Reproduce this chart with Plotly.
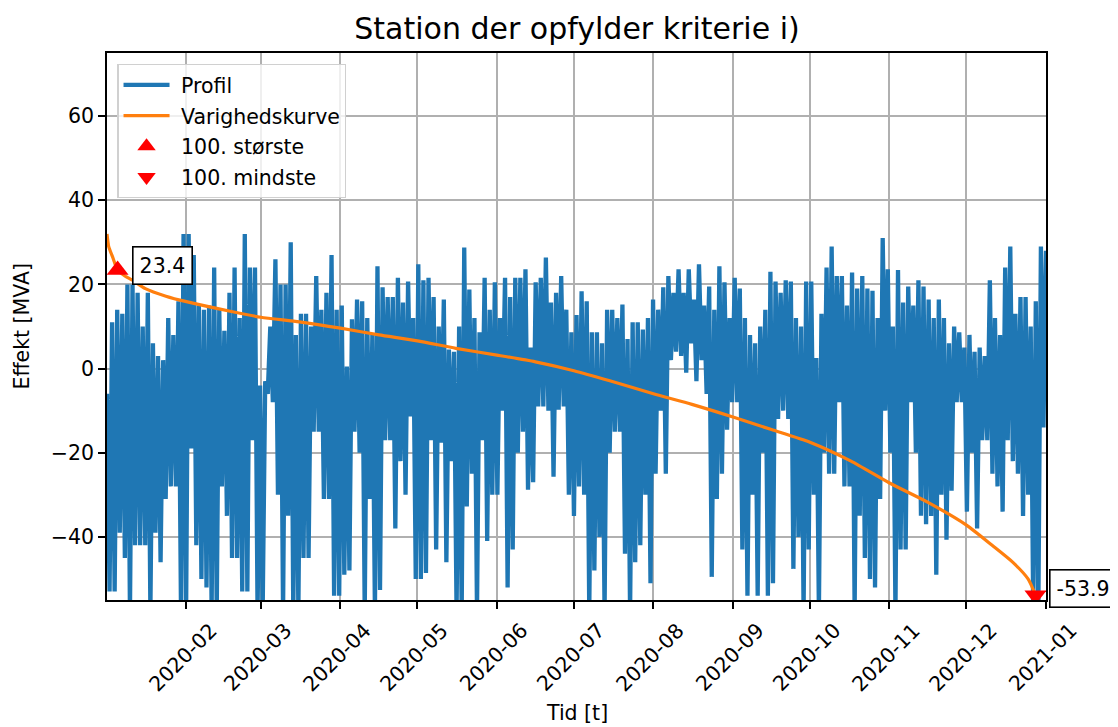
import pandas as pd
import plotly.graph_objects as go

title_text = "Station der opfylder kriterie i)"
x_label = "Tid [t]"
y_label = "Effekt [MVA]"

# Profile (alternating local highs / lows, ~1 per day)
profile_start = "2020-01-01 01:00"
profile_end = "2021-01-01 00:00"
profile_values = [
    -6, -53, 11, -53, 14, -39, 13, -45, 20, -58,
    20, -42, 18, -42, 10, -42, 18, -58, 6, -39,
    3, -46, 2, -31, 12, -28, 8, -28, 16, -58,
    32, -58, 32, -19, 27, -42, 15, -50, 14, -52,
    15, -58, 24, -58, 14, -28, 9, -35, 18, -45,
    24, -45, 12, -53, 32, -53, 24, -17, 24, -58,
    -4, -58, -3, -6, 10, -8, 26, -30, 20, -58,
    20, -35, 30, -58, 8, -58, 13, -45, 13, -45,
    10, -15, 22, -15, 14, -31, 18, -31, 27, -54,
    14, -54, 15, -49, 0.5, -48, 11.7, -15, 16.4, -20,
    16, -58, 12, -31, 8, -58, 24.3, -52.6, 19.3, -17,
    17, -17, 17, -38, 21.6, -22, 15.7, -30, 20.7, -11.4,
    12, -50, 24.8, -50, 21, -48.6, 21.6, -17, 17, -43,
    10, -17.6, 16.4, -46, 4.5, -22, 4, -58, 10, -58,
    28.8, -32.8, 18.8, -25, 12, -58, 8.6, -17, 21.6, -41,
    14, -30, 20.5, -30, 12, -10, 21.6, -52, 17, -43,
    21.6, -20, 21.6, -15, 23.6, -28.8, 5, -27, 20.5, -9,
    21.6, -9, 26.4, -10, 15.7, -25.7, 18, -9.8, 22, -9,
    14, -30, 8.6, -35, 12.7, -28, 18.4, -30, 16, -58,
    8.6, -48, 8.6, -40, 6, -58, 14, -20, 14, -15,
    12, -15, 15.2, -44, 7, -58, 11, -46, 11, -42,
    9.3, -30, 12, -51, 16.4, -25, 14, -10, 19.3, -25,
    22, 2, 18, 4, 23.6, 3, 18, -1, 23.6, 6,
    16.4, -3, 24.8, 2, 15, -6, 19.5, -49.5, 14, -31,
    24.3, -25, 20.5, -14.5, 12, -8, 21.6, -8, 19, -43,
    12, -54, 8, -30, 6, -54, 10, -20, 14, -54,
    23, -51, 20.7, -12, 18, -10, 21, -12, 20.7, -47.6,
    12, -40, 10, -58, 20.7, -43, 20.7, -30, 2.5, -58,
    13, -20, 24, -25, 29, -25, 22, -8, 22, -28,
    15, -28, 22.8, -58, 19, -35, 22, -45, 19, -50,
    18.5, -52, 12, -31, 31, -10, 23.6, -20, 10, -58,
    23.4, -43, 15.7, -43, 19.5, -8, 15, -20, 21, -35,
    19.5, -37, 16.4, -35, 12, -49, 16.4, -30, 12, -40.7,
    6, -29, 10, -8, 8.6, -8, 5, -34, 8, -20,
    4, -38, 5, -17, 3, -17, 21, -25, 12, -28,
    8, -34, 24, -17, 29, -22, 13, -25, 17, -35,
    17, -30, 10, -58, 16, -58, 29, -14, 28,
]

# Duration curve (sorted profile)
duration_dates = [
    "2020-01-01 01:00", "2020-01-01 17:00", "2020-01-03 06:00", "2020-01-05 04:00",
    "2020-01-08 00:00", "2020-01-11 00:00", "2020-01-16 00:00", "2020-01-24 00:00",
    "2020-02-01 00:00", "2020-02-19 00:00",
    "2020-03-01 00:00", "2020-03-16 00:00", "2020-04-01 00:00", "2020-04-16 00:00",
    "2020-05-01 00:00", "2020-05-16 00:00", "2020-06-01 00:00", "2020-06-16 00:00",
    "2020-07-01 00:00", "2020-07-15 00:00", "2020-08-01 00:00", "2020-08-16 00:00",
    "2020-09-01 00:00", "2020-09-16 00:00", "2020-10-01 00:00", "2020-10-17 00:00",
    "2020-11-01 00:00", "2020-11-16 00:00", "2020-12-01 00:00", "2020-12-11 00:00",
    "2020-12-19 00:00", "2020-12-25 00:00", "2020-12-27 21:00", "2021-01-01 00:00",
]
duration_values = [
    32.0, 29.0, 26.5, 23.4,
    22.0, 21.0, 19.0, 17.2,
    15.9, 13.5,
    12.2, 11.1, 9.6, 8.0,
    6.6, 4.8, 3.2, 1.6,
    -0.5, -2.9, -6.0, -8.5,
    -11.5, -14.5, -17.5, -22.0,
    -27.2, -31.8, -37.2, -42.0,
    -46.0, -50.0, -53.9, -62.0,
]

top_label = "100. største"
top_date = "2020-01-05 04:00"
top_value = 23.4
bottom_label = "100. mindste"
bottom_date = "2020-12-27 21:00"
bottom_value = -53.9

x_tick_dates = ["2020-02-01", "2020-03-01", "2020-04-01", "2020-05-01", "2020-06-01",
                "2020-07-01", "2020-08-01", "2020-09-01", "2020-10-01", "2020-11-01",
                "2020-12-01", "2021-01-01"]
x_tick_labels = ["2020-02", "2020-03", "2020-04", "2020-05", "2020-06", "2020-07",
                 "2020-08", "2020-09", "2020-10", "2020-11", "2020-12", "2021-01"]
y_tick_values = [-40, -20, 0, 20, 40, 60]

BLUE = "#1f77b4"
ORANGE = "#ff7f0e"
FONT = "DejaVu Sans"
FS = 20.5
GAP = "\u00a0"  # small gap between legend symbol and text

# the page body adds an 8 px offset; the figure is sized so it still ends at 1118x727
FIG_W, FIG_H = 1110, 719
M_L, M_T, M_R, M_B = 99, 45, 72, 127
PLOT_H = FIG_H - M_T - M_B

profile_dates = pd.date_range(profile_start, profile_end, periods=len(profile_values))

fig = go.Figure()
fig.add_trace(go.Scatter(x=profile_dates, y=profile_values, mode="lines",
                         line=dict(color=BLUE, width=4.3), name=GAP + "Profil",
                         legendgroup="a"))
fig.add_trace(go.Scatter(x=pd.to_datetime(duration_dates), y=duration_values, mode="lines",
                         line=dict(color=ORANGE, width=3.2, shape="spline", smoothing=0.6),
                         name=GAP + "Varighedskurve", legendgroup="b"))
fig.add_trace(go.Scatter(x=[pd.Timestamp(top_date)], y=[top_value], mode="markers",
                         marker=dict(symbol="triangle-up", color="red", size=19),
                         name=GAP + top_label, legendgroup="c"))
fig.add_trace(go.Scatter(x=[pd.Timestamp(bottom_date)], y=[bottom_value], mode="markers",
                         marker=dict(symbol="triangle-down", color="red", size=19),
                         name=GAP + bottom_label, legendgroup="d"))

annotations = []
for d, v, dy in [(top_date, top_value, 5), (bottom_date, bottom_value, 7)]:
    annotations.append(dict(x=pd.Timestamp(d), y=v, xref="x", yref="y", text=f"{v:.1f}",
                            showarrow=False, xanchor="left", yanchor="middle", xshift=14,
                            yshift=dy, font=dict(family=FONT, size=FS, color="black"),
                            bgcolor="white", bordercolor="black", borderwidth=1.6,
                            borderpad=6))
# rotated x tick labels, centred under their ticks (page y ~ 657)
for d, lab in zip(x_tick_dates, x_tick_labels):
    annotations.append(dict(x=pd.Timestamp(d), y=-(657 - 600) / PLOT_H, xref="x",
                            yref="paper", text=lab, showarrow=False, textangle=-45,
                            xanchor="center", yanchor="middle", xshift=-3,
                            font=dict(family=FONT, size=FS, color="black")))
annotations.append(dict(x=0.5, y=-(713 - 600) / PLOT_H, xref="paper", yref="paper",
                        text=x_label, showarrow=False, xanchor="center", yanchor="middle",
                        font=dict(family=FONT, size=FS, color="black")))
annotations.append(dict(x=-(107 - 21) / (FIG_W - M_L - M_R), y=0.5, xref="paper",
                        yref="paper", text=y_label, showarrow=False, xanchor="center",
                        yanchor="middle", textangle=-90,
                        font=dict(family=FONT, size=FS, color="black")))

fig.update_layout(
    width=FIG_W, height=FIG_H,
    margin=dict(l=M_L, r=M_R, t=M_T, b=M_B),
    paper_bgcolor="white", plot_bgcolor="white",
    font=dict(family=FONT, size=FS, color="black"),
    title=dict(text=title_text, x=(577 - 8) / FIG_W, xanchor="center",
               y=1 - (28 - 8) / FIG_H, yanchor="middle",
               font=dict(family=FONT, size=30, color="black")),
    showlegend=True,
    legend=dict(x=0.011, y=0.98, xanchor="left", yanchor="top",
                bgcolor="rgba(255,255,255,0.8)", bordercolor="#d0d0d0", borderwidth=1.2,
                font=dict(family=FONT, size=FS, color="black"), itemwidth=46,
                tracegroupgap=1),
    annotations=annotations,
)
fig.update_xaxes(type="date", range=[profile_start, profile_end],
                 tickvals=[pd.Timestamp(d) for d in x_tick_dates], showticklabels=False,
                 ticks="outside", ticklen=7, tickwidth=1.6, tickcolor="black",
                 showline=True, linecolor="black", linewidth=1.6, mirror=True,
                 showgrid=True, gridcolor="#b0b0b0", gridwidth=1.6, zeroline=False)
fig.update_yaxes(range=[-55, 75], tickvals=y_tick_values,
                 ticks="outside", ticklen=7, tickwidth=1.6, tickcolor="black",
                 showline=True, linecolor="black", linewidth=1.6, mirror=True,
                 showgrid=True, gridcolor="#b0b0b0", gridwidth=1.6, zeroline=False,
                 tickfont=dict(family=FONT, size=FS, color="black"))

fig.write_html("out.html")
